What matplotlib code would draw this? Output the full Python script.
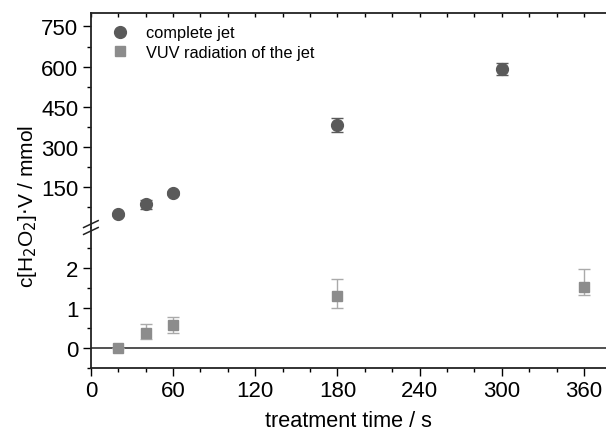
import matplotlib
matplotlib.use("Agg")
import matplotlib.pyplot as plt
from matplotlib.ticker import MultipleLocator, FixedLocator
from matplotlib.lines import Line2D

plt.rcParams['font.family'] = ['Liberation Sans', 'DejaVu Sans']

# données
t_jet = [20, 40, 60, 180, 300]
c_jet = [49, 86, 130, 382, 590]
err_jet = [5, 18, 8, 26, 22]

t_vuv = [20, 40, 60, 180, 360]
c_vuv = [0.0, 0.37, 0.56, 1.30, 1.51]
err_vuv_bas = [0.0, 0.15, 0.19, 0.31, 0.19]
err_vuv_haut = [0.0, 0.23, 0.21, 0.42, 0.46]

col_jet = "#5a5a5a"
col_vuv = "#8c8c8c"

fig = plt.figure(figsize=(6.06, 4.31), dpi=100)
ax_haut = fig.add_axes([0.150, 0.4698, 0.8498, 0.4977])
ax_bas = fig.add_axes([0.150, 0.1439, 0.8498, 0.3259])

# partie haute : jet complet
ax_haut.errorbar(t_jet, c_jet, yerr=err_jet, fmt="o", color=col_jet, ms=8.5,
                 ecolor=col_jet, elinewidth=1, capsize=4, capthick=1)
ax_haut.set_ylim(0, 800)
ax_haut.set_xlim(0, 376)
ax_haut.yaxis.set_major_locator(FixedLocator([150, 300, 450, 600, 750]))
ax_haut.yaxis.set_minor_locator(FixedLocator([75, 225, 375, 525, 675]))
ax_haut.xaxis.set_major_locator(MultipleLocator(20))
ax_haut.xaxis.tick_top()
ax_haut.tick_params(axis="x", which="both", direction="in", length=3, width=1,
                    labeltop=False, bottom=False, labelbottom=False)
ax_haut.tick_params(axis="y", which="major", direction="out", length=6, width=1,
                    labelsize=16, pad=3)
ax_haut.tick_params(axis="y", which="minor", direction="out", length=3, width=1)
for s in ["right", "bottom"]:
    ax_haut.spines[s].set_visible(False)
for s in ["left", "top"]:
    ax_haut.spines[s].set_linewidth(1.3)
    ax_haut.spines[s].set_color("#222222")

poignees = [
    Line2D([], [], ls="none", marker="o", color=col_jet, ms=8.5),
    Line2D([], [], ls="none", marker="s", color=col_vuv, ms=7.5),
]
ax_haut.legend(poignees, ["complete jet", "VUV radiation of the jet"],
               loc="upper left", frameon=False, fontsize=11.8,
               handletextpad=0.6, borderaxespad=0.35, labelspacing=0.3,
               handlelength=2.0)

# partie basse : rayonnement VUV
ax_bas.errorbar(t_vuv, c_vuv, yerr=[err_vuv_bas, err_vuv_haut], fmt="s",
                color=col_vuv, ms=7.5, ecolor="#aaaaaa", elinewidth=1,
                capsize=4, capthick=1)
ax_bas.axhline(0, color="#222222", lw=1.1, zorder=0)
ax_bas.set_ylim(-0.5, 3.0)
ax_bas.set_xlim(0, 376)
ax_bas.yaxis.set_major_locator(FixedLocator([0, 1, 2]))
ax_bas.yaxis.set_minor_locator(FixedLocator([-0.5, 0.5, 1.5, 2.5]))
ax_bas.xaxis.set_major_locator(MultipleLocator(60))
ax_bas.xaxis.set_minor_locator(MultipleLocator(20))
ax_bas.tick_params(which="major", direction="out", length=6, width=1,
                   labelsize=16, pad=3)
ax_bas.tick_params(which="minor", direction="out", length=3, width=1)
for s in ["right", "top"]:
    ax_bas.spines[s].set_visible(False)
for s in ["left", "bottom"]:
    ax_bas.spines[s].set_linewidth(1.3)
    ax_bas.spines[s].set_color("#222222")

ax_bas.set_xlabel("treatment time / s", fontsize=15.6, labelpad=6)

# coupure de l'axe
kw = dict(transform=fig.transFigure, color="#222222", lw=1.1, clip_on=False)
x0 = 0.150
y0 = 0.4698
for dy in (0.008, -0.008):
    fig.add_artist(Line2D([x0 - 0.012, x0 + 0.012],
                          [y0 + dy - 0.008, y0 + dy + 0.008], **kw))

fig.text(0.045, 0.52, r"c[H$_2$O$_2$]$\cdot$V / mmol", rotation=90,
         ha="center", va="center", fontsize=15)

fig.savefig("out.png", dpi=100)
